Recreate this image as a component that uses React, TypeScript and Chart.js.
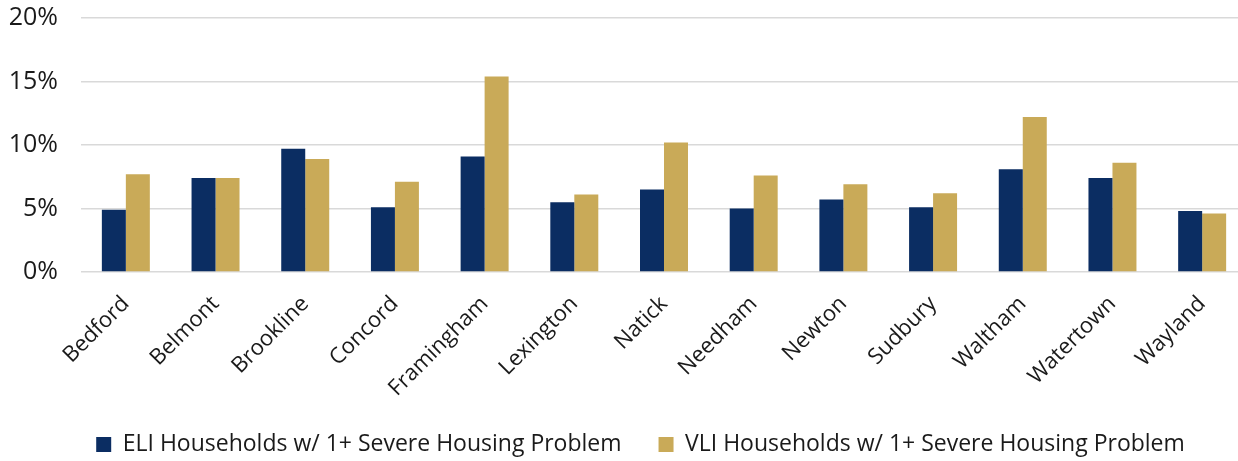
import React, { useEffect, useRef } from "react";
import { Chart, registerables } from "chart.js";

Chart.register(...registerables);

const categories = [
  "Bedford", "Belmont", "Brookline", "Concord", "Framingham", "Lexington", "Natick",
  "Needham", "Newton", "Sudbury", "Waltham", "Watertown", "Wayland",
];
const eliValues = [4.9, 7.4, 9.7, 5.1, 9.1, 5.5, 6.5, 5.0, 5.7, 5.1, 8.1, 7.4, 4.8];
const vliValues = [7.7, 7.4, 8.9, 7.1, 15.4, 6.1, 10.2, 7.6, 6.9, 6.2, 12.2, 8.6, 4.6];
const seriesLabels = [
  "ELI Households w/ 1+ Severe Housing Problem",
  "VLI Households w/ 1+ Severe Housing Problem",
];
const seriesColors = ["#0b2d62", "#c9aa58"];
const yMin = 0;
const yMax = 20;
const yStep = 5;

const FONT = "'Open Sans', 'Noto Sans', sans-serif";

// centre the legend under the plot the way the original does
const legendShift = {
  id: "legendShift",
  afterLayout(chart: any) {
    const l = chart.legend;
    if (l) {
      l.left += 17;
      l.right += 17;
    }
  },
};

export default function App() {
  const ref = useRef<HTMLCanvasElement | null>(null);

  useEffect(() => {
    if (!ref.current) return;
    const chart = new Chart(ref.current, {
      type: "bar",
      data: {
        labels: categories,
        datasets: [
          {
            label: seriesLabels[0],
            data: eliValues,
            backgroundColor: seriesColors[0],
            borderWidth: 0,
          },
          {
            label: seriesLabels[1],
            data: vliValues,
            backgroundColor: seriesColors[1],
            borderWidth: 0,
          },
        ],
      },
      plugins: [legendShift],
      options: {
        animation: false,
        responsive: true,
        maintainAspectRatio: false,
        datasets: {
          bar: { categoryPercentage: 0.535, barPercentage: 1.0 },
        },
        layout: { padding: { top: 18, right: 33, bottom: -5, left: 0 } },
        plugins: {
          tooltip: { enabled: false },
          legend: {
            position: "bottom",
            labels: {
              boxWidth: 15,
              boxHeight: 15,
              padding: 37,
              color: "#1a1a1a",
              font: { family: FONT, size: 23 },
            },
          },
        },
        scales: {
          x: {
            grid: { display: false },
            border: { display: false },
            ticks: {
              minRotation: 45,
              maxRotation: 45,
              color: "#1a1a1a",
              font: { family: FONT, size: 22 },
              padding: 11,
            },
            afterFit: (scale: any) => {
              scale.height = 124;
            },
          },
          y: {
            min: yMin,
            max: yMax,
            grid: {
              color: "#d9d9d9",
              lineWidth: 1.5,
              drawTicks: true,
              tickLength: 23,
              tickColor: "rgba(0,0,0,0)",
            },
            border: { display: false },
            ticks: {
              stepSize: yStep,
              padding: 0,
              color: "#1a1a1a",
              font: { family: FONT, size: 25 },
              callback: (v: any) => `${v}%`,
            },
            afterFit: (scale: any) => {
              scale.width = 81;
            },
          },
        },
      },
    });
    return () => chart.destroy();
  }, []);

  return (
    <div
      style={{
        position: "fixed",
        left: 0,
        top: 0,
        width: 1238,
        height: 461,
        overflow: "hidden",
        background: "#fff",
      }}
    >
      <div style={{ position: "relative", width: 1280, height: 461 }}>
        <canvas ref={ref} />
      </div>
    </div>
  );
}
